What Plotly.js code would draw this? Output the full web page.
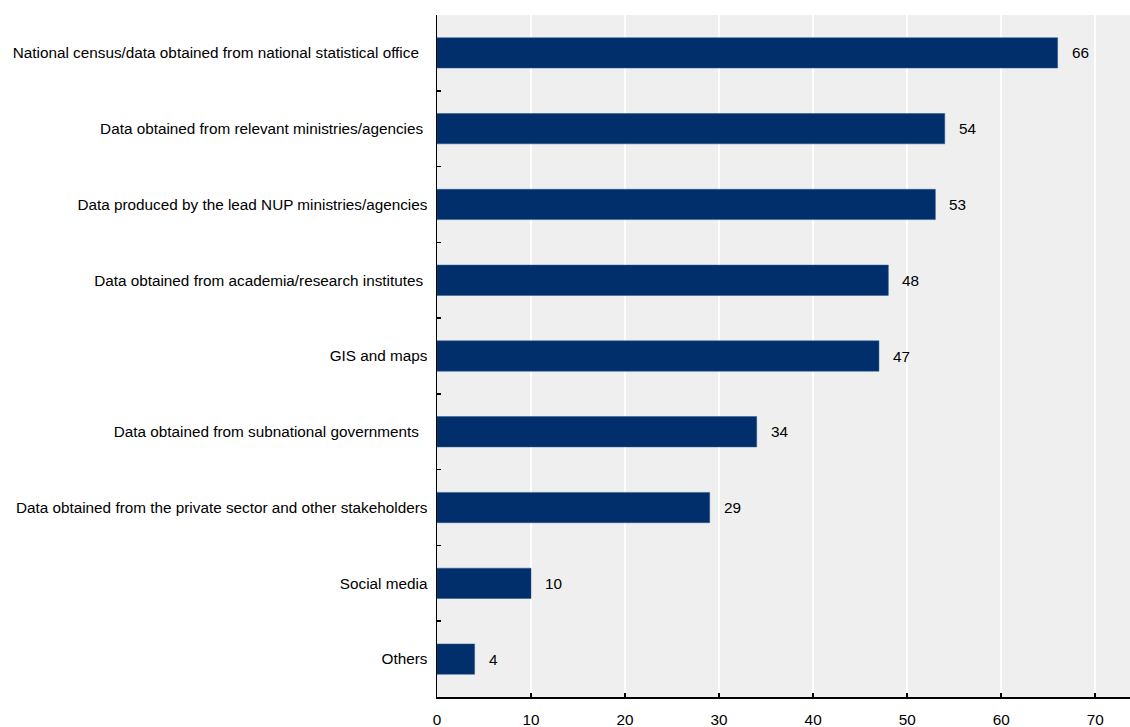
<!DOCTYPE html>
<html>
<head>
<meta charset="utf-8">
<script src="https://cdn.plot.ly/plotly-3.0.1.min.js"></script>
<style>html,body{margin:0;padding:0;background:#fff;}#chart{width:1130px;height:727px;}</style>
</head>
<body>
<div id="chart"></div>
<script>
const categories = [
  "National census/data obtained from national statistical office\u00a0\u00a0",
  "Data obtained from relevant ministries/agencies\u00a0",
  "Data produced by the lead NUP ministries/agencies",
  "Data obtained from academia/research institutes\u00a0",
  "GIS and maps",
  "Data obtained from subnational governments\u00a0\u00a0",
  "Data obtained from the private sector and other stakeholders",
  "Social media",
  "Others"
];
const values = [66, 54, 53, 48, 47, 34, 29, 10, 4];
const xTicks = [0, 10, 20, 30, 40, 50, 60, 70];

const FONT = 'Liberation Sans, Arial, sans-serif';

const trace = {
  type: 'bar',
  orientation: 'h',
  y: categories,
  x: values,
  marker: {color: '#002F6C', line: {color: '#2a5590', width: 0.5}},
  width: 0.4,
  hoverinfo: 'x+y'
};

const annotations = categories.map((c, i) => ({
  x: values[i], y: c, xref: 'x', yref: 'y',
  text: String(values[i]), showarrow: false,
  xanchor: 'left', xshift: 12,
  font: {family: FONT, size: 15.3, color: '#000'}
}));

const layout = {
  width: 1130, height: 727,
  margin: {l: 437, r: 0, t: 15, b: 30, pad: 0},
  paper_bgcolor: '#ffffff',
  plot_bgcolor: '#efefef',
  showlegend: false,
  font: {family: FONT, size: 15.3, color: '#000'},
  xaxis: {
    range: [0, 73.7],
    tickvals: xTicks,
    ticktext: xTicks.map(String),
    showgrid: true, gridcolor: '#ffffff', gridwidth: 2,
    zeroline: false,
    showline: true, linecolor: '#000', linewidth: 1.5,
    ticks: 'inside', ticklen: 4, tickwidth: 1.5, tickcolor: '#000',
    ticklabelstandoff: 8,
    tickfont: {size: 15.3}
  },
  yaxis: {
    type: 'category',
    autorange: 'reversed',
    showgrid: false, zeroline: false,
    showline: true, linecolor: '#000', linewidth: 1.5,
    ticks: 'inside', ticklen: 4, tickwidth: 1.5, tickcolor: '#000',
    tickson: 'boundaries',
    ticklabelstandoff: 5,
    tickfont: {size: 15.3}
  },
  annotations: annotations
};

Plotly.newPlot('chart', [trace], layout, {displayModeBar: false, staticPlot: true});
</script>
</body>
</html>
